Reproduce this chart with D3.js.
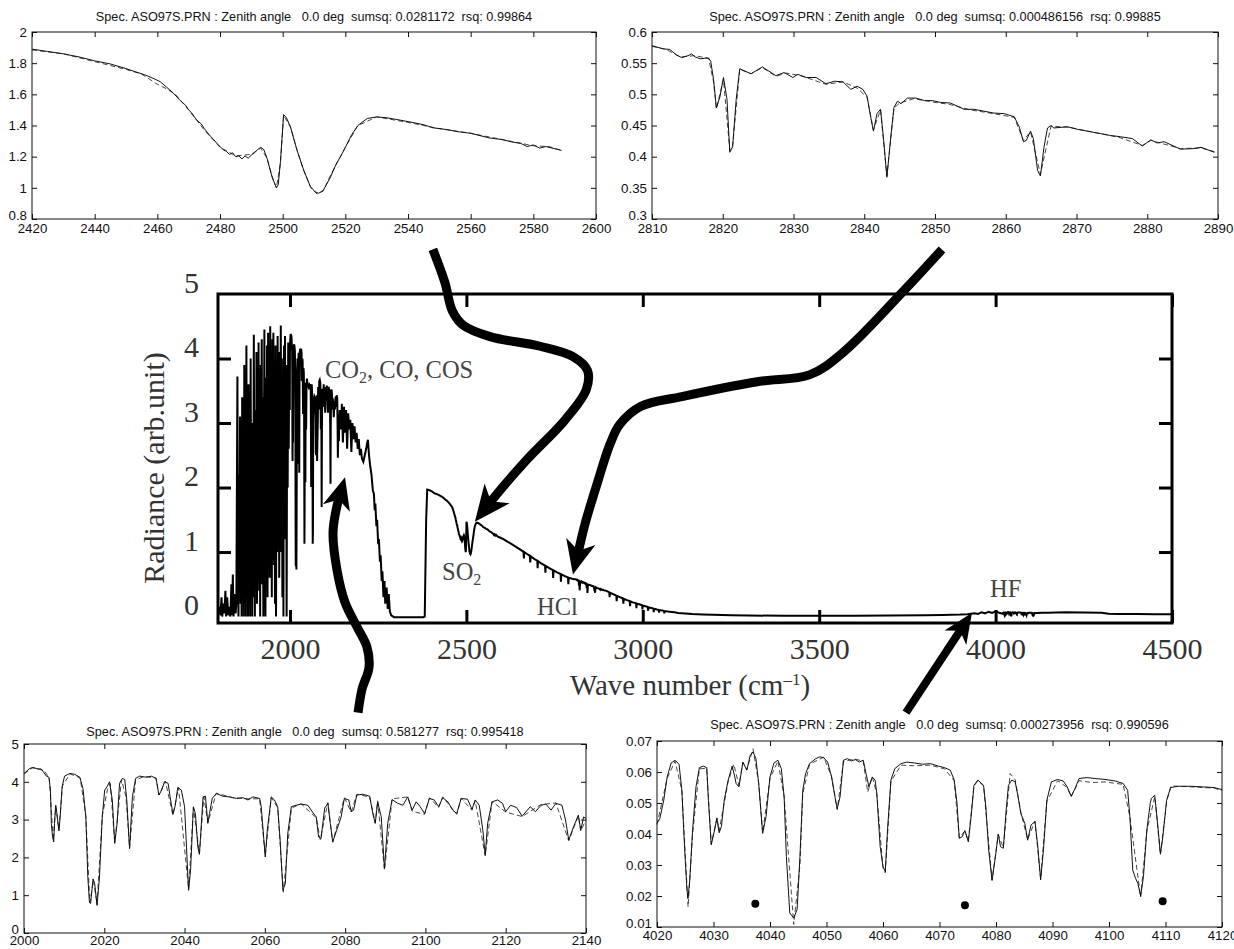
<!DOCTYPE html>
<html>
<head>
<meta charset="utf-8">
<script src="https://cdn.jsdelivr.net/npm/d3@7"></script>
<style>
  body { margin: 0; background: #fff; }
  svg { display: block; }
  .title { white-space: pre; }
</style>
</head>
<body>
<svg id="fig" width="1234" height="949"></svg>
<script>
// ---------- main spectrum pieces (wave number, radiance) ----------
var specLow = [[1797,0.05],[1800,0.15],[1803,0.02],[1806,0.3],[1808,0.0],[1811,0.2],[1814,0.05],[1817,0.4],[1819,0.0],[1822,0.3],[1825,0.02],[1828,0.15],[1831,0.0],[1834,0.5],[1836,0.02],[1838,0.65],[1840,0.0],[1843,0.35],[1846,0.05],[1848,0.2],
  [1851,3.72],[1852.5,1.0],[1854,0.0],[1855.5,2.2],[1857,0.4],[1858.5,3.1],[1860,0.2],[1861.5,1.8],[1863,0.0],[1864.5,3.4],[1866,0.6],[1867.5,2.6],[1869,0.0],[1870.5,3.9],[1872,0.3],[1873.5,1.5],[1875,0.0],[1876.5,4.2],[1878,0.8],[1879.5,2.9],[1881,0.0],[1882.5,3.6],[1884,0.5],[1885.5,2.1],[1887,0.0],[1888.5,4.0],[1890,1.2],[1891.5,3.0],[1893,0.0],[1894.5,2.5],[1896,0.3],[1897.5,4.37],[1899,1.5],[1900.5,0.0],[1902,3.2],[1903.5,0.6],[1905,4.1],[1906.5,0.2],[1908,3.8],[1909.5,1.6],[1911,4.25],[1912.5,0.4],[1914,2.7],[1915.5,0.0],[1917,3.9],[1918.5,1.1],[1920,4.3],[1921.5,0.5],[1923,3.4],[1924.5,0.0],[1926,2.4],[1927.5,4.45],[1929,1.3],[1930.5,0.0],[1932,3.7],[1933.5,0.9],[1935,4.2],[1936.5,0.3],[1938,4.4],[1939.5,1.8],[1941,3.3],[1942.5,0.6],[1944,4.5],[1945.5,1.4],[1947,3.0],[1948.5,0.3],[1950,4.3],[1951.5,1.9],[1953,4.4],[1954.5,0.8],[1956,3.6],[1957.5,0.2],[1959,4.2],[1960.5,0.0],[1962,3.1],[1963.5,1.0],[1965,4.35],[1966.5,1.7],[1968,4.1],[1969.5,0.6],[1971,3.5],[1972.5,2.2],[1974,4.51],[1975.5,1.0],[1977,4.0],[1978.5,0.3],[1980,3.3],[1981.5,0.0],[1983,4.2],[1984.5,1.9],[1986,4.35],[1987.5,1.2],[1989,3.9],[1990.5,0.0],[1992,3.4],[1993.5,2.0],[1995,4.25],[1996.5,2.6],[1998,4.0],[1999.5,3.2]];

var specMid = [[2141,3.2],[2145,2.9],[2147,3.3],[2150,2.7],[2153,3.25],[2156,2.85],[2159,3.2],[2162,2.6],[2165,3.15],[2168,2.9],[2171,3.05],[2174,2.55],[2177,3.0],[2180,2.75],[2183,2.95],[2186,2.7],[2189,2.85],[2192,2.6],[2195,2.75],[2198,2.5],[2201,2.6],[2204,2.45],[2208,2.4],[2212,2.5],[2216,2.6],[2219,2.7],[2221,2.74],[2224,2.5],[2227,2.35],[2231,2.2],[2235,1.95],[2238,1.9],[2240,1.65],[2242,1.75],[2245,1.4],[2247,1.5],[2250,1.12],[2252,1.2],[2255,0.85],[2257,0.95],[2260,0.55],[2262,0.7],[2265,0.3],[2268,0.55],[2270,0.2],[2274,0.45],[2277,0.12],[2280,0.35],[2283,0.08],[2287,0.02],[2295,-0.01],[2320,-0.01],[2350,-0.01],[2378,-0.01],[2382,0.0],[2386,1.5],[2389,1.97],[2395,1.96],[2402,1.94],[2410,1.91],[2415,1.9]];

var specTail1 = [[2595,1.225],[2605,1.2],[2615,1.165],[2625,1.135],[2635,1.1],[2645,1.065],[2655,1.03],[2662,1.0],[2663,0.9],[2664,1.0],[2672,0.97],[2680,0.94],[2681,0.84],[2682,0.935],[2692,0.895],[2701,0.865],[2702,0.75],[2703,0.86],[2712,0.825],[2723,0.79],[2724,0.68],[2725,0.785],[2735,0.75],[2745,0.72],[2746,0.6],[2747,0.715],[2757,0.685],[2767,0.66],[2768,0.54],[2769,0.655],[2778,0.63],[2788,0.605],[2789,0.5],[2790,0.6],[2800,0.585],[2805,0.58]];

var specTail2 = [[2893,0.405],[2900,0.39],[2905,0.375],[2906,0.3],[2907,0.37],[2915,0.35],[2925,0.325],[2926,0.24],[2927,0.32],[2935,0.3],[2944,0.28],[2945,0.2],[2946,0.275],[2955,0.255],[2963,0.24],[2964,0.16],[2965,0.235],[2972,0.22],[2981,0.205],[2982,0.13],[2983,0.2],[2990,0.19],[2998,0.175],[2999,0.11],[3000,0.17],[3007,0.16],[3014,0.15],[3015,0.09],[3016,0.145],[3022,0.135],[3030,0.125],[3031,0.07],[3032,0.12],[3040,0.11],[3045,0.105],[3046,0.06],[3047,0.1],[3055,0.095],[3060,0.085],[3061,0.05],[3062,0.085],[3075,0.075],[3090,0.065],[3100,0.055],[3120,0.048],[3140,0.04],[3170,0.032],[3200,0.026],[3250,0.02],[3300,0.016],[3400,0.012],[3500,0.012],[3600,0.014],[3700,0.018],[3800,0.022],[3850,0.025],[3900,0.03],[3920,0.035],[3940,0.05],[3950,0.04],[3960,0.065],[3970,0.05],[3980,0.075],[3990,0.055],[4000,0.08],[4010,0.06]];

var specTail3 = [[4130,0.06],[4150,0.06],[4170,0.062],[4200,0.065],[4250,0.062],[4300,0.06],[4320,0.045],[4350,0.04],[4400,0.038],[4450,0.035],[4500,0.035]];

// ---------- insets: measured (solid) and fitted (dashed) ----------
var tlMeas = [[2420,1.89],[2425,1.875],[2430,1.86],[2435,1.84],[2440,1.815],[2445,1.795],[2450,1.765],[2453,1.745],[2456,1.725],[2459,1.70],[2461,1.68],[2463,1.645],[2465,1.61],[2467.3,1.56],[2469,1.53],[2470,1.50],[2471,1.48],[2472,1.45],[2472.6,1.435],[2474,1.41],[2475,1.38],[2476,1.355],[2477,1.33],[2478,1.31],[2479,1.285],[2480,1.265],[2481,1.245],[2482,1.235],[2483,1.215],[2484,1.225],[2485,1.2],[2486,1.205],[2487,1.185],[2488,1.205],[2489,1.19],[2490,1.21],[2491,1.225],[2492,1.245],[2493,1.26],[2494,1.245],[2495,1.19],[2496.6,1.07],[2498,1.0],[2498.6,1.02],[2499.3,1.17],[2500.3,1.47],[2501.2,1.45],[2502.5,1.39],[2504.6,1.24],[2506.7,1.115],[2508.8,1.01],[2510.3,0.975],[2511.5,0.965],[2513,0.985],[2515.3,1.07],[2517,1.15],[2519,1.22],[2520,1.26],[2522,1.34],[2524,1.40],[2527,1.445],[2530,1.455],[2533,1.45],[2536,1.44],[2540,1.425],[2545,1.405],[2548,1.385],[2552,1.375],[2556,1.36],[2560,1.35],[2563,1.335],[2566,1.32],[2570,1.31],[2573,1.295],[2576,1.285],[2578,1.265],[2580,1.275],[2582,1.255],[2584,1.265],[2586,1.255],[2588,1.245],[2589,1.24]];
var tlFit = [[2420,1.885],[2430,1.86],[2440,1.81],[2450,1.76],[2455,1.73],[2460,1.665],[2463,1.635],[2466,1.595],[2470,1.50],[2475,1.37],[2480,1.26],[2485,1.205],[2490,1.215],[2493,1.255],[2495,1.19],[2497,1.05],[2498,1.0],[2499.3,1.16],[2500.3,1.465],[2502.5,1.39],[2504.6,1.24],[2506.7,1.11],[2509,1.0],[2511,0.96],[2513,0.98],[2515,1.07],[2520,1.26],[2524,1.40],[2530,1.455],[2540,1.42],[2550,1.38],[2560,1.35],[2570,1.31],[2580,1.27],[2585,1.265],[2589,1.24]];

var trMeas = [[2810,0.578],[2811.6,0.573],[2812.5,0.572],[2813.5,0.563],[2814.2,0.559],[2815.1,0.562],[2815.6,0.565],[2816.1,0.56],[2816.8,0.557],[2817.5,0.558],[2818.0,0.558],[2818.3,0.553],[2818.7,0.524],[2819.1,0.478],[2819.6,0.496],[2820.1,0.527],[2820.6,0.492],[2821.0,0.407],[2821.4,0.416],[2821.9,0.492],[2822.4,0.541],[2824.0,0.533],[2825.6,0.544],[2827.5,0.530],[2828.7,0.535],[2829.9,0.527],[2830.6,0.532],[2831.8,0.527],[2833.2,0.527],[2834.6,0.517],[2835.8,0.521],[2837.0,0.520],[2838.1,0.508],[2839.0,0.513],[2839.8,0.508],[2840.4,0.497],[2841.0,0.458],[2841.3,0.441],[2841.8,0.469],[2842.3,0.476],[2842.7,0.432],[2843.2,0.367],[2843.8,0.437],[2844.2,0.479],[2844.7,0.489],[2845.2,0.485],[2846.1,0.494],[2847.3,0.494],[2848.5,0.49],[2849.6,0.49],[2850.8,0.487],[2852.2,0.486],[2854.1,0.476],[2855.5,0.476],[2856.9,0.473],[2858.3,0.470],[2859.8,0.469],[2861.2,0.464],[2861.9,0.448],[2862.5,0.424],[2862.9,0.426],[2863.5,0.441],[2863.9,0.429],[2864.5,0.378],[2864.9,0.369],[2865.4,0.415],[2865.9,0.446],[2866.4,0.45],[2866.8,0.446],[2868.7,0.448],[2870.1,0.444],[2871.5,0.441],[2873.4,0.437],[2874.8,0.434],[2876.2,0.432],[2877.9,0.429],[2879.3,0.417],[2880.5,0.427],[2881.4,0.422],[2882.4,0.424],[2884.7,0.412],[2886.6,0.413],[2887.6,0.415],[2889.5,0.407]];
var trFit = [[2810,0.577],[2812,0.572],[2814,0.56],[2816,0.562],[2818,0.558],[2818.7,0.52],[2819.1,0.477],[2820.1,0.524],[2821,0.41],[2821.4,0.418],[2822.4,0.54],[2824,0.533],[2825.6,0.543],[2827.5,0.529],[2829,0.534],[2831,0.53],[2834.6,0.516],[2837,0.52],[2839,0.51],[2840.4,0.495],[2841.3,0.443],[2842.3,0.475],[2843.2,0.369],[2844.2,0.478],[2845,0.486],[2847,0.493],[2850,0.487],[2852,0.484],[2855,0.475],[2858.3,0.469],[2861.2,0.463],[2862.5,0.426],[2863.5,0.44],[2864.9,0.372],[2866.4,0.449],[2869,0.447],[2872,0.44],[2876,0.431],[2879.3,0.418],[2880.5,0.426],[2884.7,0.413],[2887.6,0.414],[2889.5,0.408]];

var blMeas = [[2000,4.22],[2001.4,4.35],[2002.2,4.38],[2003.5,4.34],[2004.3,4.34],[2005.6,4.15],[2006.2,4.12],[2006.6,3.78],[2006.8,2.9],[2007.1,2.56],[2007.4,2.41],[2007.6,2.9],[2007.9,3.38],[2008.2,3.16],[2008.7,2.7],[2009.0,3.07],[2009.5,3.87],[2010.1,4.15],[2011.4,4.22],[2012.6,4.2],[2013.9,4.12],[2014.7,3.82],[2015.4,3.07],[2015.9,1.48],[2016.3,0.82],[2016.6,0.78],[2017.2,1.43],[2017.6,1.31],[2018.2,0.73],[2018.8,1.48],[2019.5,3.07],[2020.1,3.78],[2020.7,3.87],[2021.3,4.0],[2022.0,3.52],[2022.6,2.37],[2023.2,2.9],[2023.8,3.96],[2024.5,4.09],[2025.1,4.06],[2025.6,3.52],[2026.3,2.23],[2027.0,3.6],[2027.8,4.09],[2028.8,4.15],[2030.5,4.12],[2031.7,4.15],[2032.9,4.09],[2033.6,3.65],[2034.3,3.78],[2035.0,4.0],[2035.9,3.96],[2036.4,3.6],[2037.1,3.14],[2037.7,3.38],[2038.3,3.85],[2039.2,3.78],[2040.0,3.34],[2040.6,2.01],[2041.0,1.13],[2041.5,1.66],[2042.2,3.34],[2042.7,3.16],[2043.3,2.28],[2043.7,2.08],[2044.6,3.6],[2045.2,3.62],[2045.8,2.9],[2046.2,3.16],[2046.9,3.56],[2047.9,3.69],[2049.5,3.62],[2051.2,3.6],[2052.9,3.56],[2054.5,3.58],[2055.8,3.52],[2057.0,3.6],[2058.7,3.56],[2059.1,3.34],[2059.7,2.54],[2060.1,2.01],[2060.6,2.72],[2061.6,3.6],[2062.4,3.52],[2063.2,3.34],[2063.8,2.46],[2064.5,1.13],[2065.1,1.31],[2065.7,2.63],[2066.6,3.34],[2067.8,3.38],[2069.0,3.41],[2070.7,3.38],[2072.0,3.18],[2072.8,3.07],[2073.4,2.54],[2074.0,2.5],[2074.9,3.3],[2075.7,3.43],[2076.3,2.9],[2076.9,2.41],[2077.9,2.72],[2079.0,3.07],[2079.8,3.56],[2080.9,3.52],[2081.5,3.21],[2082.1,3.25],[2082.9,3.65],[2084.4,3.67],[2086.1,3.62],[2086.9,3.16],[2087.5,2.9],[2088.1,3.47],[2089.0,3.07],[2089.8,1.7],[2090.6,2.9],[2091.7,3.53],[2093.1,3.43],[2094.4,3.38],[2095.6,3.6],[2096.7,3.25],[2097.7,3.47],[2098.7,3.34],[2099.8,3.16],[2101.0,3.56],[2102.2,3.52],[2103.3,3.34],[2104.3,3.58],[2105.6,3.47],[2106.8,3.25],[2107.8,3.16],[2108.9,3.56],[2110.5,3.54],[2111.6,3.27],[2112.4,3.52],[2113.4,3.38],[2114.3,2.72],[2114.9,2.06],[2115.5,2.9],[2116.6,3.47],[2118.0,3.52],[2119.2,3.43],[2120.0,3.21],[2121.2,3.38],[2122.7,3.32],[2124.1,3.09],[2126.1,3.34],[2127.4,3.21],[2128.8,3.38],[2130.0,3.41],[2131.3,3.25],[2132.5,3.43],[2134.0,3.38],[2134.9,2.99],[2135.7,2.46],[2136.9,2.81],[2138.1,3.12],[2138.7,2.72],[2139.4,3.07],[2140,3.03]];
var blFit = [[2000,4.2],[2002,4.37],[2005,4.3],[2006.3,4.1],[2007.3,2.45],[2007.9,3.35],[2008.7,2.75],[2009.6,3.9],[2011.5,4.21],[2014,4.1],[2015.4,3.1],[2016.4,0.8],[2017.3,1.4],[2018.2,0.76],[2019.5,3.1],[2020.8,3.8],[2021.5,3.95],[2022.6,2.4],[2024.3,4.05],[2025.4,3.6],[2026.3,2.25],[2027.8,4.05],[2030,4.14],[2032.9,4.1],[2033.6,3.65],[2035.2,4.02],[2037.1,3.12],[2038.5,3.85],[2041,1.15],[2042.2,3.32],[2043.7,2.1],[2044.8,3.6],[2045.8,2.92],[2047.9,3.7],[2052,3.58],[2056,3.55],[2058.7,3.55],[2060.1,2.05],[2061.6,3.58],[2063.2,3.32],[2064.6,1.08],[2066.6,3.3],[2069,3.42],[2072.8,3.05],[2073.8,2.47],[2075.7,3.45],[2076.9,2.4],[2079.8,3.58],[2081.5,3.2],[2082.9,3.67],[2086.1,3.6],[2087.5,2.92],[2088.1,3.5],[2089.8,1.66],[2091.7,3.55],[2095.6,3.6],[2096.7,3.22],[2099.8,3.14],[2101,3.58],[2103.3,3.32],[2104.3,3.6],[2107.8,3.14],[2108.9,3.56],[2111.6,3.25],[2112.4,3.5],[2114.9,2.04],[2116.6,3.48],[2120,3.2],[2124.1,3.08],[2128.8,3.4],[2132.5,3.44],[2135.7,2.44],[2138.1,3.1],[2138.7,2.7],[2140,3.0]];

var brMeas = [[4020,0.0434],[4020.5,0.045],[4021.2,0.0509],[4021.8,0.0584],[4022.5,0.0629],[4023.2,0.0638],[4023.9,0.0625],[4024.4,0.0541],[4024.9,0.0349],[4025.3,0.022],[4025.5,0.0193],[4025.8,0.0252],[4026.3,0.0413],[4026.9,0.0552],[4027.5,0.0614],[4028.2,0.0619],[4028.8,0.0614],[4029.1,0.0509],[4029.6,0.0365],[4030.2,0.0413],[4030.6,0.0452],[4031.0,0.0404],[4031.4,0.0424],[4031.9,0.0509],[4032.6,0.0574],[4033.3,0.0619],[4033.7,0.059],[4034.0,0.0563],[4034.5,0.0552],[4035.2,0.0632],[4035.9,0.0606],[4036.5,0.0654],[4037.0,0.0665],[4037.5,0.0643],[4038.0,0.0563],[4038.7,0.0402],[4039.3,0.0456],[4040.0,0.0584],[4040.7,0.0629],[4041.4,0.0638],[4042.0,0.0611],[4042.5,0.052],[4042.9,0.0327],[4043.5,0.0145],[4044.2,0.0129],[4044.8,0.0156],[4045.3,0.0327],[4045.8,0.0541],[4046.3,0.0595],[4047.0,0.0627],[4048.1,0.0643],[4048.8,0.0649],[4049.5,0.0646],[4050.2,0.0632],[4050.9,0.0584],[4051.6,0.0509],[4051.9,0.0482],[4052.4,0.052],[4053.0,0.0638],[4053.7,0.0643],[4054.4,0.0636],[4055.1,0.064],[4055.8,0.0632],[4056.5,0.0638],[4057.0,0.0595],[4057.5,0.0552],[4058.1,0.0584],[4058.6,0.0574],[4058.9,0.0531],[4059.5,0.0359],[4060.0,0.0295],[4060.4,0.0279],[4060.8,0.0413],[4061.4,0.0574],[4062.1,0.0611],[4063.2,0.0627],[4064.2,0.0632],[4065.6,0.0629],[4067.0,0.0625],[4068.4,0.0627],[4069.8,0.0619],[4070.9,0.0614],[4071.9,0.0606],[4072.6,0.0574],[4073.1,0.0499],[4073.5,0.0386],[4074.0,0.0391],[4074.5,0.0411],[4075.1,0.0375],[4075.6,0.0456],[4076.1,0.0557],[4076.8,0.0574],[4077.8,0.0557],[4078.2,0.0488],[4078.7,0.0349],[4079.3,0.025],[4079.9,0.0327],[4080.4,0.04],[4080.8,0.0359],[4081.3,0.0354],[4081.8,0.0477],[4082.2,0.0557],[4082.8,0.0574],[4083.4,0.0568],[4083.9,0.052],[4084.4,0.0466],[4085.1,0.0434],[4085.6,0.038],[4086.2,0.0429],[4086.9,0.044],[4087.4,0.0359],[4087.9,0.0252],[4088.4,0.0349],[4089.0,0.0509],[4089.8,0.0568],[4090.9,0.0576],[4091.9,0.0571],[4092.6,0.0552],[4093.3,0.0522],[4094.0,0.0547],[4094.7,0.0579],[4096.1,0.0582],[4097.5,0.0579],[4099.3,0.0576],[4101.1,0.0571],[4102.5,0.0563],[4103.3,0.0541],[4103.7,0.0456],[4104.2,0.0284],[4104.7,0.0257],[4105.1,0.0241],[4105.6,0.0199],[4106.1,0.0263],[4106.7,0.0413],[4107.3,0.0499],[4107.5,0.0515],[4108.1,0.0525],[4108.6,0.0434],[4109.1,0.0336],[4109.5,0.0386],[4110.2,0.0509],[4110.9,0.055],[4112.3,0.0554],[4114.4,0.0554],[4116.5,0.0552],[4118.6,0.055],[4120,0.0543]];
var brFit = [[4020,0.043],[4021.8,0.058],[4023.2,0.0635],[4024.4,0.054],[4025.5,0.0165],[4026.3,0.040],[4027.5,0.061],[4028.8,0.0612],[4029.6,0.0368],[4030.6,0.045],[4031,0.041],[4032.6,0.057],[4033.6,0.0625],[4034.5,0.0556],[4035.2,0.063],[4035.9,0.0608],[4037,0.0675],[4038,0.0565],[4038.7,0.0404],[4040,0.058],[4041.4,0.0635],[4042.5,0.052],[4044.2,0.0108],[4045.3,0.030],[4045.8,0.053],[4047,0.0625],[4049.5,0.0648],[4050.9,0.0585],[4051.9,0.0478],[4053,0.0634],[4055,0.0642],[4056.5,0.0635],[4057.3,0.0535],[4058.1,0.0585],[4058.9,0.053],[4060,0.029],[4060.4,0.0275],[4061.4,0.057],[4063.2,0.0622],[4065.6,0.062],[4068.4,0.0622],[4070.9,0.061],[4072.6,0.0572],[4073.5,0.0388],[4074.5,0.041],[4075.1,0.0378],[4076.1,0.0555],[4076.8,0.0572],[4077.8,0.0555],[4079.3,0.0252],[4080.4,0.0398],[4081.3,0.0356],[4082.5,0.0595],[4083.4,0.0575],[4084.4,0.047],[4085.6,0.0382],[4086.9,0.0442],[4087.9,0.0255],[4089,0.0505],[4090.9,0.0572],[4092.6,0.055],[4093.3,0.052],[4094.7,0.0572],[4097,0.0566],[4099.3,0.0568],[4102.5,0.056],[4103.7,0.0455],[4105.6,0.0197],[4106.7,0.041],[4108.1,0.052],[4109.1,0.0333],[4110.2,0.0505],[4111,0.0555],[4114.4,0.0552],[4118.6,0.0548],[4120,0.054]];
var brDots = [[4037.4,0.0175],[4074.5,0.017],[4109.5,0.0183]];

// ---------- ticks and labels ----------
var mainXTicks = [2000, 2500, 3000, 3500, 4000, 4500];
var mainYTicks = [0, 1, 2, 3, 4, 5];
var tlXTicks = [2420,2440,2460,2480,2500,2520,2540,2560,2580,2600];
var tlYTicks = [0.8,1,1.2,1.4,1.6,1.8,2];
var trXTicks = [2810,2820,2830,2840,2850,2860,2870,2880,2890];
var trYTicks = [0.3,0.35,0.4,0.45,0.5,0.55,0.6];
var blXTicks = [2000,2020,2040,2060,2080,2100,2120,2140];
var blYTicks = [0,1,2,3,4,5];
var brXTicks = [4020,4030,4040,4050,4060,4070,4080,4090,4100,4110,4120];
var brYTicks = [0.01,0.02,0.03,0.04,0.05,0.06,0.07];
var titles = [
  "Spec. ASO97S.PRN : Zenith angle   0.0 deg  sumsq: 0.0281172  rsq: 0.99864",
  "Spec. ASO97S.PRN : Zenith angle   0.0 deg  sumsq: 0.000486156  rsq: 0.99885",
  "Spec. ASO97S.PRN : Zenith angle   0.0 deg  sumsq: 0.581277  rsq: 0.995418",
  "Spec. ASO97S.PRN : Zenith angle   0.0 deg  sumsq: 0.000273956  rsq: 0.990596"
];

// arrows, in main-chart data units
var arrowSO2 = [[2405,5.69],[2439,5.18],[2460,4.74],[2490,4.52],[2567,4.34],[2709,4.19],[2802,4.03],[2843,3.82],[2840,3.52],[2780,3.05],[2666,2.40],[2573,1.81],[2524,1.47]];
var arrowHCl = [[3848,5.69],[3738,5.04],[3567,4.09],[3474,3.75],[3324,3.64],[3111,3.41],[2995,3.26],[2935,2.98],[2907,2.67],[2870,2.05],[2836,1.43],[2802,0.65]];
var arrowCO2 = [[2193,-1.49],[2204,-1.13],[2224,-0.79],[2218,-0.47],[2190,-0.16],[2156,0.22],[2133,0.73],[2122,1.30],[2133,1.71],[2156,2.16]];
var arrowHF = [[3746,-1.49],[3933,0.06]];

var SERIF = "'Liberation Serif', 'Times New Roman', serif";
var SANS = "'Liberation Sans', Arial, Helvetica, sans-serif";
var svg = d3.select('#fig');

function inset(o) {
  var g = svg.append('g');
  var b = o.box;
  var sx = d3.scaleLinear().domain(o.xd).range([b[0], b[2]]);
  var sy = d3.scaleLinear().domain(o.yd).range([b[3], b[1]]);
  var fmt = function(v){ return String(+v.toFixed(3)); };
  var none = function(){ return ''; };
  var style = function(sel){
    sel.select('.domain').remove();
    sel.attr('font-family', SANS).attr('font-size', 13.3).attr('color', '#111');
    sel.selectAll('.tick line').attr('stroke-width', 1);
  };
  g.append('g').attr('transform', 'translate(0,' + b[3] + ')')
    .call(d3.axisBottom(sx).tickValues(o.xt).tickFormat(fmt).tickSizeInner(-5).tickSizeOuter(0).tickPadding(o.xpad)).call(style);
  g.append('g').attr('transform', 'translate(0,' + b[1] + ')')
    .call(d3.axisTop(sx).tickValues(o.xt).tickFormat(none).tickSizeInner(-5).tickSizeOuter(0)).call(style);
  var left = g.append('g').attr('transform', 'translate(' + b[0] + ',0)')
    .call(d3.axisLeft(sy).tickValues(o.yt).tickFormat(fmt).tickSizeInner(-5).tickSizeOuter(0).tickPadding(5)).call(style);
  // lowest label sits a little above its tick, as in the original
  left.selectAll('.tick text').filter(function(d){ return d === o.yd[0]; }).attr('dy', '0.05em');
  g.append('g').attr('transform', 'translate(' + b[2] + ',0)')
    .call(d3.axisRight(sy).tickValues(o.yt).tickFormat(none).tickSizeInner(-5).tickSizeOuter(0)).call(style);
  g.append('rect').attr('x', b[0]).attr('y', b[1]).attr('width', b[2]-b[0]).attr('height', b[3]-b[1])
    .attr('fill', 'none').attr('stroke', '#111').attr('stroke-width', 1);
  var line = d3.line().x(function(d){ return sx(d[0]); }).y(function(d){ return sy(d[1]); });
  g.append('path').datum(o.fit).attr('d', line).attr('fill', 'none')
    .attr('stroke', '#333').attr('stroke-width', 0.9).attr('stroke-dasharray', '5,3');
  g.append('path').datum(o.meas).attr('d', line).attr('fill', 'none')
    .attr('stroke', '#111').attr('stroke-width', 1);
  g.append('text').attr('class', 'title').attr('xml:space', 'preserve')
    .attr('x', (b[0]+b[2])/2).attr('y', o.ty).attr('text-anchor', 'middle')
    .attr('font-family', SANS).attr('font-size', 12.7).attr('fill', '#111').text(o.title);
  return {g: g, sx: sx, sy: sy};
}

inset({box: [32, 32, 596, 219], xd: [2420, 2600], yd: [0.8, 2], xt: tlXTicks, yt: tlYTicks, meas: tlMeas, fit: tlFit, title: titles[0], ty: 21, xpad: 5});
inset({box: [652, 32, 1218, 219], xd: [2810, 2890], yd: [0.3, 0.6], xt: trXTicks, yt: trYTicks, meas: trMeas, fit: trFit, title: titles[1], ty: 21, xpad: 5});
inset({box: [24, 744, 586, 933], xd: [2000, 2140], yd: [0, 5], xt: blXTicks, yt: blYTicks, meas: blMeas, fit: blFit, title: titles[2], ty: 736, xpad: 3});
var br = inset({box: [657, 741, 1222, 927], xd: [4020, 4120], yd: [0.01, 0.07], xt: brXTicks, yt: brYTicks, meas: brMeas, fit: brFit, title: titles[3], ty: 729, xpad: 4});
br.g.selectAll('circle.dot').data(brDots).enter().append('circle').attr('class', 'dot')
  .attr('cx', function(d){ return br.sx(d[0]); }).attr('cy', function(d){ return br.sy(d[1]); })
  .attr('r', 4).attr('fill', '#000');

// ---------- main chart ----------
var x = d3.scaleLinear().domain([1796, 4500]).range([218, 1172]);
var y = d3.scaleLinear().domain([-0.1, 5]).range([623, 294]);
var main = svg.append('g');

main.append('clipPath').attr('id', 'clipMain').append('rect')
  .attr('x', 218).attr('y', 294).attr('width', 954).attr('height', 329);

var spectrum = [].concat(specLow, blMeas, specMid, tlMeas, specTail1, trMeas, specTail2, brMeas, specTail3);
main.append('path').datum(spectrum).attr('clip-path', 'url(#clipMain)')
  .attr('d', d3.line().x(function(d){ return x(d[0]); }).y(function(d){ return y(d[1]); }))
  .attr('fill', 'none').attr('stroke', '#000').attr('stroke-width', 2).attr('stroke-linejoin', 'miter');

var mstyle = function(sel){
  sel.select('.domain').remove();
  sel.attr('font-family', SERIF).attr('font-size', 30).attr('color', '#000');
  sel.selectAll('.tick line').attr('stroke-width', 3);
  sel.selectAll('.tick text').attr('fill', '#333');
};
var blank = function(){ return ''; };
main.append('g').attr('transform', 'translate(0,623)')
  .call(d3.axisBottom(x).tickValues(mainXTicks).tickFormat(d3.format('d')).tickSizeInner(-13).tickSizeOuter(0).tickPadding(15)).call(mstyle);
main.append('g').attr('transform', 'translate(0,294)')
  .call(d3.axisTop(x).tickValues(mainXTicks).tickFormat(blank).tickSizeInner(-13).tickSizeOuter(0)).call(mstyle);
var yl = main.append('g').attr('transform', 'translate(218,0)')
  .call(d3.axisLeft(y).tickValues(mainYTicks).tickFormat(d3.format('d')).tickSizeInner(-13).tickSizeOuter(0).tickPadding(19)).call(mstyle);
yl.selectAll('.tick text').attr('dy', -2);
yl.selectAll('.tick line').filter(function(d){ return d === 0 || d === 5; }).remove();
main.append('g').attr('transform', 'translate(1172,0)')
  .call(d3.axisRight(y).tickValues([1, 2, 3, 4]).tickFormat(blank).tickSizeInner(-13).tickSizeOuter(0)).call(mstyle);

main.append('rect').attr('x', 218).attr('y', 294).attr('width', 954).attr('height', 329)
  .attr('fill', 'none').attr('stroke', '#000').attr('stroke-width', 3);

main.append('text').attr('transform', 'translate(164,468) rotate(-90)').attr('text-anchor', 'middle')
  .attr('font-family', SERIF).attr('font-size', 30).attr('fill', '#333').text('Radiance (arb.unit)');

var xl = main.append('text').attr('x', 690).attr('y', 695).attr('text-anchor', 'middle')
  .attr('font-family', SERIF).attr('font-size', 29).attr('fill', '#333');
xl.append('tspan').text('Wave number (cm');
xl.append('tspan').attr('font-size', 17).attr('dy', -10).text('\u20131');
xl.append('tspan').attr('dy', 10).text(')');

function label(tx, ty, parts) {
  var t = main.append('text').attr('x', tx).attr('y', ty)
    .attr('font-family', SERIF).attr('font-size', 24.5).attr('fill', '#444');
  parts.forEach(function(p){
    var s = t.append('tspan').text(p[0]);
    if (p[1] === 'sub') s.attr('font-size', 16).attr('dy', 5);
    if (p[1] === 'back') s.attr('dy', -5);
  });
}
label(325, 378, [['CO'], ['2', 'sub'], [', CO, COS', 'back']]);
label(442, 580, [['SO'], ['2', 'sub']]);
label(537, 615, [['HCl']]);
label(990, 597, [['HF']]);

// ---------- arrows ----------
function arrow(pts, len, half, width) {
  var P = pts.map(function(p){ return [x(p[0]), y(p[1])]; });
  var tip = P[P.length - 1], prev = P[P.length - 2];
  var dx = tip[0] - prev[0], dy = tip[1] - prev[1], n = Math.hypot(dx, dy);
  dx /= n; dy /= n;
  var px = -dy, py = dx;
  var base = [tip[0] - dx * len * 0.6, tip[1] - dy * len * 0.6];
  var shaft = P.slice(0, -1).concat([base]);
  main.append('path').attr('d', d3.line().curve(d3.curveCatmullRom.alpha(0.5))(shaft))
    .attr('fill', 'none').attr('stroke', '#000').attr('stroke-width', width);
  var head = [
    tip,
    [tip[0] - dx * len + px * half, tip[1] - dy * len + py * half],
    [tip[0] - dx * len * 0.72, tip[1] - dy * len * 0.72],
    [tip[0] - dx * len - px * half, tip[1] - dy * len - py * half]
  ];
  main.append('path').attr('d', 'M' + head.join('L') + 'Z').attr('fill', '#000');
}
arrow(arrowSO2, 36, 16, 9);
arrow(arrowHCl, 34, 15, 9);
arrow(arrowCO2, 32, 14, 9);
arrow(arrowHF, 30, 13, 8);
</script>
</body>
</html>
